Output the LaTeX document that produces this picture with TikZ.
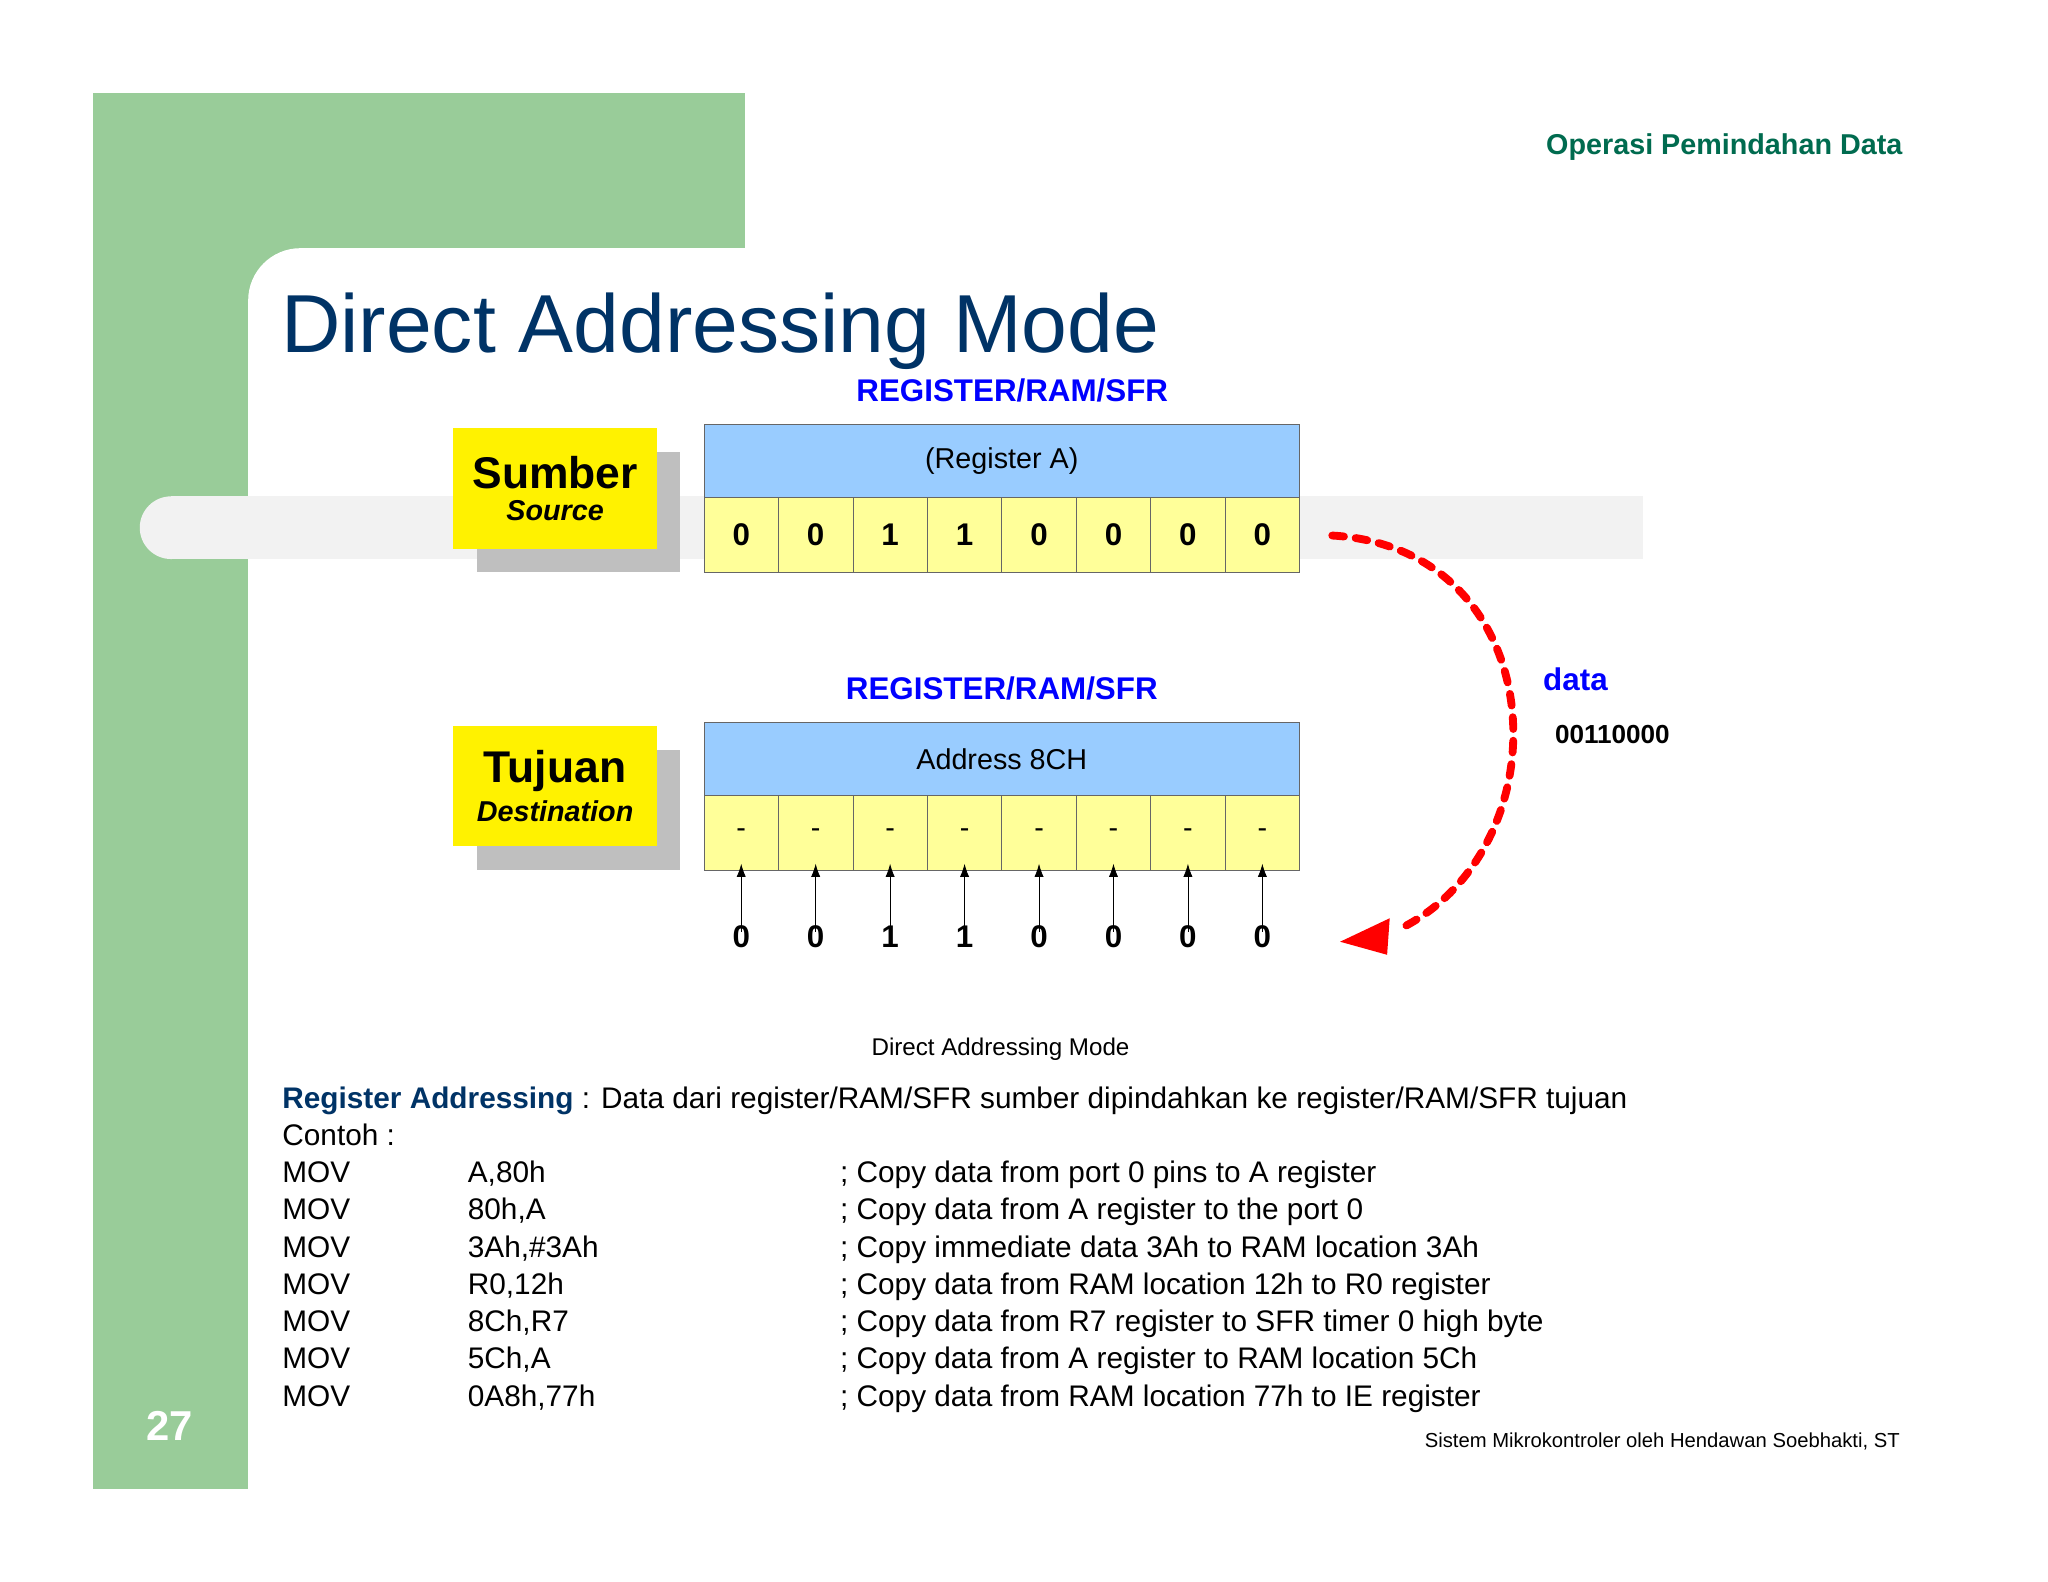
\documentclass[tikz,border=0pt]{standalone}
\usepackage{fontspec}
\setmainfont{Liberation Sans}
\usetikzlibrary{arrows.meta}
\definecolor{gr}{HTML}{99CC99}
\definecolor{dg}{HTML}{006B4F}
\definecolor{db}{HTML}{003366}
\definecolor{lb}{HTML}{99CCFF}
\definecolor{ly}{HTML}{FFFF99}
\definecolor{bb}{HTML}{0000FF}
\tikzset{
  cell/.style={draw=black!60,line width=0.6pt,fill=ly,minimum width=57pt,minimum height=57pt,inner sep=0pt,font=\fontsize{24}{24}\selectfont\bfseries},
  hdr/.style={draw=black!60,line width=0.6pt,fill=lb,minimum width=456pt,minimum height=56pt,inner sep=0pt,font=\fontsize{22}{22}\selectfont},
  lbl/.style={fill=yellow,minimum width=156pt,minimum height=92pt,inner sep=0pt,align=center},
  shd/.style={fill=black!25},
  rr/.style={text=bb,font=\fontsize{24}{24}\selectfont\bfseries},
  txt/.style={anchor=base west,inner sep=0pt,font=\fontsize{22.8}{22.8}\selectfont},
}
\begin{document}
\begin{tikzpicture}[x=1pt,y=-1pt]
\useasboundingbox (0,0) rectangle (1568,1211);
\fill[white] (0,0) rectangle (1568,1211);
\fill[gr] (71,71) rectangle (570,190);
\fill[gr] (71,71) rectangle (190,1140);
\fill[gr] (190,190) rectangle (250,250);
\fill[white,rounded corners=40] (190,1140) -- (190,190) -- (600,190) -- (600,1140) -- cycle;
\fill[black!5] (131,404) circle[radius=24];
\fill[black!5] (131,380) rectangle (1258,428);
\node[anchor=base east,text=dg,font=\fontsize{22}{22}\selectfont\bfseries] (hd) at (1460,118) {Operasi Pemindahan Data};
\node[anchor=base west,inner sep=0pt,text=db,font=\fontsize{63}{63}\selectfont] (title) at (215,270) {Direct Addressing Mode};
\node[rr] (r1) at (775,299) {REGISTER/RAM/SFR};
\fill[shd] (365,346) rectangle (521,438);
\node[lbl] (src) at (425,374) {{\fontsize{34}{34}\selectfont\bfseries Sumber}\\[8pt]{\fontsize{22}{22}\selectfont\bfseries\itshape Source}};
\node[hdr] (h1) at (767,353) {(Register A)};
\foreach \b [count=\i] in {0,0,1,1,0,0,0,0}
  \node[cell] (s\i) at (510.5+57*\i,409.5) {\b};
\node[rr] (r2) at (767,527) {REGISTER/RAM/SFR};
\fill[shd] (365,574) rectangle (521,666);
\node[lbl] (dst) at (425,602) {{\fontsize{34}{34}\selectfont\bfseries Tujuan}\\[6pt]{\fontsize{22}{22}\selectfont\bfseries\itshape Destination}};
\node[hdr] (h2) at (767,581) {Address 8CH};
\foreach \b [count=\i] in {-,-,-,-,-,-,-,-}
  \node[cell,font=\fontsize{22}{22}\selectfont] (d\i) at (510.5+57*\i,637.5) {\b};
\foreach \b [count=\i] in {0,0,1,1,0,0,0,0}{
  \node[font=\fontsize{24}{24}\selectfont\bfseries,inner sep=0pt] (b\i) at (510.5+57*\i,717) {\b};
  \draw[-{Latex[length=10pt,width=7pt]},line width=0.6pt] ([yshift=-5pt]b\i.north) -- ([yshift=5pt]d\i.south);
}
\coordinate (cs) at (1020,410);
\draw[red,line width=6pt,dash pattern=on 9pt off 9pt,line cap=round] (cs) .. controls (1190,420) and (1200,650) .. (1070,712);
\fill[red] (1026,721) -- (1064,703) -- (1062,731) -- cycle;
\node[rr,anchor=west] (data) at (1178,520) {data};
\node[anchor=west,font=\fontsize{20}{20}\selectfont\bfseries] (val) at (1187,562) {00110000};
\node[font=\fontsize{18.5}{18.5}\selectfont] (cap) at (766,803) {Direct Addressing Mode};
\node[txt] (t0) at (216,849) {\textcolor{db}{\textbf{Register Addressing}} : Data dari register/RAM/SFR sumber dipindahkan ke register/RAM/SFR tujuan};
\node[txt] (t1) at (216,877) {Contoh :};
\foreach \a/\b [count=\i] in {A{,}80h/Copy data from port 0 pins to A register,
  80h{,}A/Copy data from A register to the port 0,
  3Ah{,}\#3Ah/Copy immediate data 3Ah to RAM location 3Ah,
  R0{,}12h/Copy data from RAM location 12h to R0 register,
  8Ch{,}R7/Copy data from R7 register to SFR timer 0 high byte,
  5Ch{,}A/Copy data from A register to RAM location 5Ch,
  0A8h{,}77h/Copy data from RAM location 77h to IE register}{
  \node[txt] (m\i) at (216,877+28.5*\i) {MOV};
  \node[txt] (o\i) at (358,877+28.5*\i) {\a};
  \node[txt] (c\i) at (643,877+28.5*\i) {; \b};
}
\node[text=white,font=\fontsize{32}{32}\selectfont\bfseries] (pg) at (130,1092) {27};
\node[anchor=base east,font=\fontsize{15.5}{15.5}\selectfont] (ft) at (1458,1108) {Sistem Mikrokontroler oleh Hendawan Soebhakti, ST};
\end{tikzpicture}
\end{document}
